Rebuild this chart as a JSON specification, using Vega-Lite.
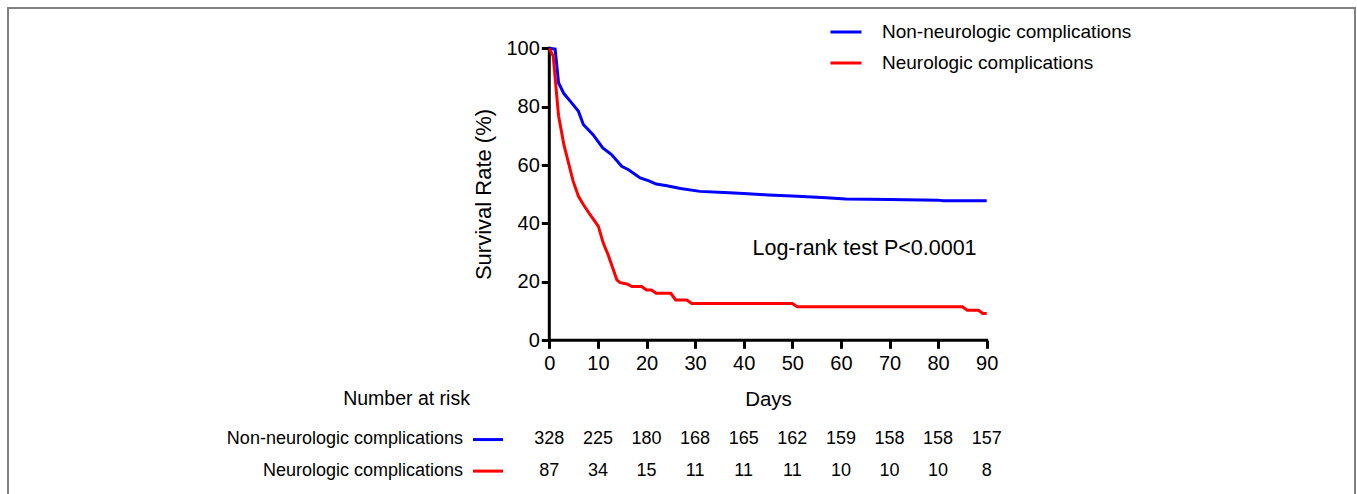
{
  "$schema": "https://vega.github.io/schema/vega-lite/v6.json",
  "width": 1347,
  "height": 498,
  "autosize": {"type": "none"},
  "padding": {"left": 8, "top": 8, "right": 2, "bottom": -12},
  "background": "white",
  "config": {
    "view": {"stroke": "#808080", "strokeWidth": 2},
    "font": "Liberation Sans",
    "axis": {"grid": false, "domain": false, "tickColor": "black", "tickWidth": 3, "tickSize": 8, "labelColor": "black", "titleColor": "black", "labelFont": "Liberation Sans", "titleFont": "Liberation Sans", "titleFontWeight": "normal", "labelOverlap": false},
    "text": {"font": "Liberation Sans", "color": "black"}
  },
  "datasets": {
    "surv": [
      {"group": "Non-neurologic complications", "day": 0, "surv": 100},
      {"group": "Non-neurologic complications", "day": 1.2, "surv": 99.7},
      {"group": "Non-neurologic complications", "day": 1.9, "surv": 88.2},
      {"group": "Non-neurologic complications", "day": 3, "surv": 84.5},
      {"group": "Non-neurologic complications", "day": 4.3, "surv": 81.9},
      {"group": "Non-neurologic complications", "day": 6, "surv": 78.4},
      {"group": "Non-neurologic complications", "day": 7, "surv": 73.9},
      {"group": "Non-neurologic complications", "day": 9, "surv": 70.4},
      {"group": "Non-neurologic complications", "day": 11, "surv": 65.9},
      {"group": "Non-neurologic complications", "day": 12.8, "surv": 63.6},
      {"group": "Non-neurologic complications", "day": 14.9, "surv": 59.6},
      {"group": "Non-neurologic complications", "day": 16.3, "surv": 58.4},
      {"group": "Non-neurologic complications", "day": 18.7, "surv": 55.6},
      {"group": "Non-neurologic complications", "day": 20.5, "surv": 54.6},
      {"group": "Non-neurologic complications", "day": 22, "surv": 53.5},
      {"group": "Non-neurologic complications", "day": 24.2, "surv": 52.9},
      {"group": "Non-neurologic complications", "day": 27, "surv": 52},
      {"group": "Non-neurologic complications", "day": 31, "surv": 51},
      {"group": "Non-neurologic complications", "day": 36, "surv": 50.6},
      {"group": "Non-neurologic complications", "day": 40, "surv": 50.3},
      {"group": "Non-neurologic complications", "day": 45, "surv": 49.8},
      {"group": "Non-neurologic complications", "day": 50, "surv": 49.4},
      {"group": "Non-neurologic complications", "day": 54, "surv": 49.1},
      {"group": "Non-neurologic complications", "day": 57, "surv": 48.8},
      {"group": "Non-neurologic complications", "day": 61, "surv": 48.4},
      {"group": "Non-neurologic complications", "day": 70, "surv": 48.2},
      {"group": "Non-neurologic complications", "day": 80, "surv": 48.0},
      {"group": "Non-neurologic complications", "day": 81, "surv": 47.8},
      {"group": "Non-neurologic complications", "day": 90, "surv": 47.8},
      {"group": "Neurologic complications", "day": 0, "surv": 100},
      {"group": "Neurologic complications", "day": 0.8, "surv": 97.3},
      {"group": "Neurologic complications", "day": 1.9, "surv": 77},
      {"group": "Neurologic complications", "day": 3, "surv": 67},
      {"group": "Neurologic complications", "day": 4.9, "surv": 54.5},
      {"group": "Neurologic complications", "day": 6, "surv": 49.3},
      {"group": "Neurologic complications", "day": 7, "surv": 46.5},
      {"group": "Neurologic complications", "day": 8.4, "surv": 43},
      {"group": "Neurologic complications", "day": 10.1, "surv": 39},
      {"group": "Neurologic complications", "day": 11.1, "surv": 33.3},
      {"group": "Neurologic complications", "day": 12.1, "surv": 29.3},
      {"group": "Neurologic complications", "day": 13.9, "surv": 20.7},
      {"group": "Neurologic complications", "day": 14.5, "surv": 19.8},
      {"group": "Neurologic complications", "day": 15.2, "surv": 19.5},
      {"group": "Neurologic complications", "day": 16, "surv": 19.3},
      {"group": "Neurologic complications", "day": 17, "surv": 18.4},
      {"group": "Neurologic complications", "day": 19, "surv": 18.4},
      {"group": "Neurologic complications", "day": 20, "surv": 17.2},
      {"group": "Neurologic complications", "day": 21, "surv": 17.2},
      {"group": "Neurologic complications", "day": 22, "surv": 16.1},
      {"group": "Neurologic complications", "day": 25, "surv": 16.1},
      {"group": "Neurologic complications", "day": 26, "surv": 13.8},
      {"group": "Neurologic complications", "day": 28.3, "surv": 13.8},
      {"group": "Neurologic complications", "day": 29.3, "surv": 12.6},
      {"group": "Neurologic complications", "day": 50, "surv": 12.6},
      {"group": "Neurologic complications", "day": 51, "surv": 11.5},
      {"group": "Neurologic complications", "day": 85, "surv": 11.5},
      {"group": "Neurologic complications", "day": 86, "surv": 10.3},
      {"group": "Neurologic complications", "day": 88.3, "surv": 10.3},
      {"group": "Neurologic complications", "day": 89.2, "surv": 9.2},
      {"group": "Neurologic complications", "day": 90, "surv": 9.2}
    ],
    "risk": [
      {"group": "Non-neurologic complications", "day": 0, "n": 328},
      {"group": "Non-neurologic complications", "day": 10, "n": 225},
      {"group": "Non-neurologic complications", "day": 20, "n": 180},
      {"group": "Non-neurologic complications", "day": 30, "n": 168},
      {"group": "Non-neurologic complications", "day": 40, "n": 165},
      {"group": "Non-neurologic complications", "day": 50, "n": 162},
      {"group": "Non-neurologic complications", "day": 60, "n": 159},
      {"group": "Non-neurologic complications", "day": 70, "n": 158},
      {"group": "Non-neurologic complications", "day": 80, "n": 158},
      {"group": "Non-neurologic complications", "day": 90, "n": 157},
      {"group": "Neurologic complications", "day": 0, "n": 87},
      {"group": "Neurologic complications", "day": 10, "n": 34},
      {"group": "Neurologic complications", "day": 20, "n": 15},
      {"group": "Neurologic complications", "day": 30, "n": 11},
      {"group": "Neurologic complications", "day": 40, "n": 11},
      {"group": "Neurologic complications", "day": 50, "n": 11},
      {"group": "Neurologic complications", "day": 60, "n": 10},
      {"group": "Neurologic complications", "day": 70, "n": 10},
      {"group": "Neurologic complications", "day": 80, "n": 10},
      {"group": "Neurologic complications", "day": 90, "n": 8}
    ]
  },
  "layer": [
    {
      "data": {"values": [{}]},
      "mark": {"type": "rule", "strokeWidth": 3, "color": "black", "strokeCap": "square"},
      "encoding": {"x": {"datum": 0}, "x2": {"datum": 90}, "y": {"datum": 0}}
    },
    {
      "data": {"values": [{}]},
      "mark": {"type": "rule", "strokeWidth": 3, "color": "black", "strokeCap": "square"},
      "encoding": {"x": {"datum": 0}, "y": {"datum": 0}, "y2": {"datum": 100}}
    },
    {
      "data": {"name": "surv"},
      "mark": {"type": "line", "strokeWidth": 3, "interpolate": "linear"},
      "encoding": {
        "x": {
          "field": "day", "type": "quantitative",
          "scale": {"domain": [-111.38, 165.78], "nice": false, "zero": false},
          "axis": {"values": [0, 10, 20, 30, 40, 50, 60, 70, 80, 90], "offset": -165.7, "title": "Days", "labelFontSize": 20, "labelPadding": 5, "titleFontSize": 20.5, "titleX": 760, "titleY": 58.7, "titleBaseline": "middle", "titleAlign": "center"}
        },
        "y": {
          "field": "surv", "type": "quantitative",
          "scale": {"domain": [-56.75, 113.8], "nice": false, "zero": false},
          "axis": {"values": [0, 20, 40, 60, 80, 100], "offset": -541.3, "title": "Survival Rate (%)", "labelFontSize": 20, "labelPadding": 2, "titleFontSize": 22, "titleX": -66.3, "titleY": 186, "titleAngle": 270, "titleBaseline": "middle", "titleAlign": "center"}
        },
        "color": {
          "field": "group", "type": "nominal",
          "scale": {"domain": ["Non-neurologic complications", "Neurologic complications"], "range": ["#0000ff", "#ff0000"]},
          "legend": {"orient": "none", "legendX": 821, "legendY": 7, "title": null, "symbolType": "stroke", "symbolSize": 961, "symbolStrokeWidth": 3, "labelFontSize": 19, "labelOffset": 19, "labelLimit": 0, "rowPadding": 4, "labelFont": "Liberation Sans", "labelColor": "black", "padding": 0}
        }
      }
    },
    {
      "data": {"values": [{"t": "Log-rank test P<0.0001"}]},
      "mark": {"type": "text", "fontSize": 21.5, "align": "center", "baseline": "middle"},
      "encoding": {"text": {"field": "t"}, "x": {"datum": 64.86}, "y": {"datum": 31.1}}
    },
    {
      "data": {"values": [{"t": "Number at risk"}]},
      "mark": {"type": "text", "fontSize": 19.5, "align": "center", "baseline": "middle"},
      "encoding": {"text": {"field": "t"}, "x": {"datum": -29.38}, "y": {"datum": -20.1}}
    },
    {
      "data": {"name": "risk"},
      "transform": [{"filter": "datum.group == 'Non-neurologic complications'"}],
      "mark": {"type": "text", "fontSize": 18, "align": "center", "baseline": "middle"},
      "encoding": {"x": {"field": "day", "type": "quantitative"}, "y": {"datum": -33.97}, "text": {"field": "n"}}
    },
    {
      "data": {"name": "risk"},
      "transform": [{"filter": "datum.group == 'Neurologic complications'"}],
      "mark": {"type": "text", "fontSize": 18, "align": "center", "baseline": "middle"},
      "encoding": {"x": {"field": "day", "type": "quantitative"}, "y": {"datum": -44.76}, "text": {"field": "n"}}
    },
    {
      "data": {"values": [{"t": "Non-neurologic complications"}]},
      "mark": {"type": "text", "fontSize": 18, "align": "right", "baseline": "middle"},
      "encoding": {"text": {"field": "t"}, "x": {"datum": -17.76}, "y": {"datum": -33.8}}
    },
    {
      "data": {"values": [{"t": "Neurologic complications"}]},
      "mark": {"type": "text", "fontSize": 18, "align": "right", "baseline": "middle"},
      "encoding": {"text": {"field": "t"}, "x": {"datum": -17.76}, "y": {"datum": -44.6}}
    },
    {
      "data": {"values": [{}]},
      "mark": {"type": "rule", "strokeWidth": 3, "color": "#0000ff"},
      "encoding": {"x": {"datum": -15.7}, "x2": {"datum": -9.53}, "y": {"datum": -34.0}}
    },
    {
      "data": {"values": [{}]},
      "mark": {"type": "rule", "strokeWidth": 3, "color": "#ff0000"},
      "encoding": {"x": {"datum": -15.7}, "x2": {"datum": -9.53}, "y": {"datum": -44.8}}
    }
  ]
}
